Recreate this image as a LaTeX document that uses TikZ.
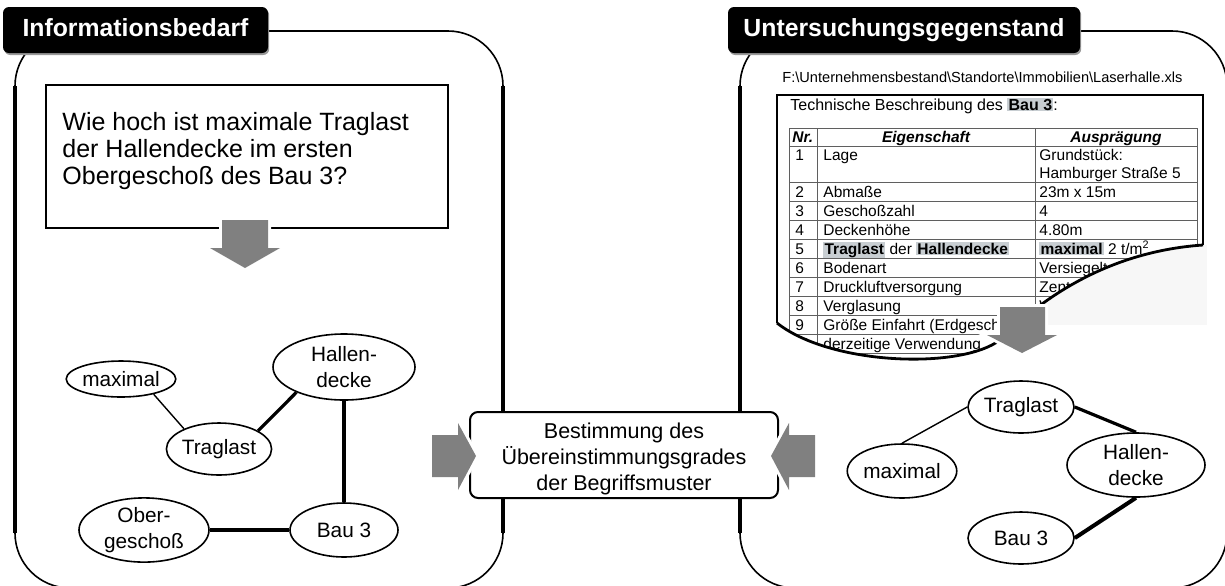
\documentclass[tikz,border=0pt]{standalone}
\usepackage{fontspec}
\setmainfont{Liberation Sans}
\usetikzlibrary{shapes.geometric,shadows}
\definecolor{agray}{RGB}{128,128,128}
\definecolor{hl}{RGB}{200,206,210}
\definecolor{tline}{RGB}{95,95,95}
\newcommand\hlbox[1]{{\setlength{\fboxsep}{0.6pt}\colorbox{hl}{\textbf{#1}}}}
\newcommand\sheetfont{\fontsize{7.75}{9.5}\selectfont}
\begin{document}
\begin{tikzpicture}[x=0.5pt,y=-0.5pt,
  tab/.style={fill=black, rounded corners=3pt, text=white, inner sep=0pt,
    font=\fontsize{12.4}{15}\selectfont\bfseries, text depth=2pt,
    drop shadow={shadow xshift=0.6pt, shadow yshift=-1pt, fill=black!40, opacity=1}},
  panel/.style={line width=0.8pt, rounded corners=27.5pt},
  side/.style={line width=2pt},
  concept/.style={ellipse, draw, line width=0.8pt, fill=white, inner sep=0pt,
    align=center, font=\fontsize{10.4}{13}\selectfont},
  thinline/.style={line width=0.7pt},
  strongline/.style={line width=1.6pt},
  blockarrow/.style={fill=agray, preaction={draw=white, line width=3pt}},
  cell/.style={anchor=base west, inner sep=0pt, font=\sheetfont},
  hcell/.style={anchor=base, inner sep=0pt, font=\sheetfont\bfseries\itshape},
  gridline/.style={draw=tline, line width=0.5pt}
]
\useasboundingbox (0,0) rectangle (1225,585);
\clip (0,0) rectangle (1225,585);

% ---------- panels ----------
\draw[panel] (15,31) rectangle (503,588);
\draw[panel] (740,31) rectangle (1227,588);
\draw[side] (15,86) -- (15,533);
\draw[side] (503,86) -- (503,533);
\draw[side] (740,86) -- (740,533);

\node[tab, minimum width=132.5pt, minimum height=23pt] (tabA) at (135.5,30) {Informationsbedarf};
\node[tab, minimum width=176pt, minimum height=23pt] (tabB) at (904,30) {Untersuchungsgegenstand};

% ---------- left panel ----------
\node[draw, line width=0.75pt, minimum width=201pt, minimum height=71.5pt] (question) at (247,156.5) {};
\node[anchor=west, align=left, inner sep=0pt, font=\fontsize{12.5}{13.6}\selectfont] (qtext) at (62,151)
  {Wie hoch ist maximale Traglast\\der Hallendecke im ersten\\Obergeschoß des Bau 3?};
\fill[blockarrow] (222,220) -- (268,220) -- (268,248) -- (280,248) -- (245,268)
  -- (210,248) -- (222,248) -- cycle;

\node[concept, minimum width=53pt, minimum height=18pt] (lmax) at (121,379) {maximal};
\node[concept, minimum width=71pt, minimum height=33pt] (lhal) at (344,367) {Hallen-\\decke};
\node[concept, minimum width=52pt, minimum height=26pt] (ltrag) at (219,449) {Traglast};
\node[concept, minimum width=65pt, minimum height=32pt] (lober) at (144,530) {Ober-\\geschoß};
\node[concept, minimum width=54pt, minimum height=27pt] (lbau) at (344,530) {Bau 3};
\draw[thinline] (lmax.-25) -- (ltrag.150);
\draw[strongline] (ltrag.25) -- (lhal.208);
\draw[strongline] (lhal.south) -- (lbau.north);
\draw[strongline] (lober.east) -- (lbau.west);

% ---------- middle ----------
\node[draw, line width=1pt, rounded corners=4pt, fill=white, minimum width=154pt,
  minimum height=43pt] (mid) at (624,455) {};
\node[align=center, inner sep=0pt, font=\fontsize{10.75}{12.8}\selectfont] (midtext) at (624,459)
  {Bestimmung des\\Übereinstimmungsgrades\\der Begriffsmuster};
\fill[blockarrow] (432,435) -- (458,435) -- (458,423) -- (476,456) -- (458,490)
  -- (458,477) -- (432,477) -- cycle;
\fill[blockarrow] (815,435) -- (789,435) -- (789,423) -- (771,456) -- (789,490)
  -- (789,477) -- (815,477) -- cycle;

% ---------- right panel: spreadsheet ----------
\fill[black!3] (1000,245) rectangle (1207,325);
\node[cell, font=\fontsize{7.3}{9}\selectfont] (path) at (782,82)
  {F:\textbackslash Unternehmensbestand\textbackslash Standorte\textbackslash Immobilien\textbackslash Laserhalle.xls};
\begin{scope}
  \clip (777,95) -- (1203,95) -- (1203,245) .. controls (1130,250) and (1060,280) .. (1000,340)
    .. controls (960,370) and (830,365) .. (777,323) -- cycle;
  \fill[white] (777,95) rectangle (1203,370);
  \node[cell, font=\fontsize{8}{9.5}\selectfont] (title) at (790,110) {Technische Beschreibung des \hlbox{Bau 3}:};
  \foreach \yy in {128,146,182,201,220,239,258,277,296,315,334,353}
    \draw[gridline] (789,\yy) -- (1197,\yy);
  \foreach \xx in {789,817,1035,1197}
    \draw[gridline] (\xx,128) -- (\xx,370);
  \node[hcell, anchor=base west] (h0) at (792,142) {Nr.};
  \node[hcell] (h1) at (926,142) {Eigenschaft};
  \node[hcell] (h2) at (1116,142) {Ausprägung};
  \node[cell] (a1) at (795,160) {1};
  \node[cell] (b1) at (823,160) {Lage};
  \node[cell] (c1) at (1039,160) {Grundstück:};
  \node[cell] (c1b) at (1039,178) {Hamburger Straße 5};
  \node[cell] (a2) at (795,197) {2};
  \node[cell] (b2) at (823,197) {Abmaße};
  \node[cell] (c2) at (1039,197) {23m x 15m};
  \node[cell] (a3) at (795,216) {3};
  \node[cell] (b3) at (823,216) {Geschoßzahl};
  \node[cell] (c3) at (1039,216) {4};
  \node[cell] (a4) at (795,235) {4};
  \node[cell] (b4) at (823,235) {Deckenhöhe};
  \node[cell] (c4) at (1039,235) {4.80m};
  \node[cell] (a5) at (795,254) {5};
  \node[cell] (b5) at (823,254) {\hlbox{Traglast} der \hlbox{Hallendecke}};
  \node[cell] (c5) at (1039,254) {\hlbox{maximal} 2 t/m\textsuperscript{2}};
  \node[cell] (a6) at (795,273) {6};
  \node[cell] (b6) at (823,273) {Bodenart};
  \node[cell] (c6) at (1039,273) {Versiegelt};
  \node[cell] (a7) at (795,292) {7};
  \node[cell] (b7) at (823,292) {Druckluftversorgung};
  \node[cell] (c7) at (1039,292) {Zentral};
  \node[cell] (a8) at (795,311) {8};
  \node[cell] (b8) at (823,311) {Verglasung};
  \node[cell] (c8) at (1039,311) {W};
  \node[cell] (a9) at (795,330) {9};
  \node[cell] (b9) at (823,330) {Größe Einfahrt (Erdgeschoß)};
  \node[cell] (a10) at (792,349) {10};
  \node[cell] (b10) at (823,349) {derzeitige Verwendung};
\end{scope}
\draw[line width=0.7pt] (777,323) -- (777,95) -- (1203,95) -- (1203,245);
\draw[line width=1.4pt] (1203,245) .. controls (1130,250) and (1060,280) .. (1000,340)
    .. controls (960,370) and (830,365) .. (777,323);
\fill[blockarrow] (1000,307) -- (1045,307) -- (1045,335) -- (1057,335) -- (1022,353)
  -- (987,335) -- (1000,335) -- cycle;

% ---------- right graph ----------
\node[concept, minimum width=53pt, minimum height=26pt] (rtrag) at (1021,407) {Traglast};
\node[concept, minimum width=54pt, minimum height=27pt] (rmax) at (902,471) {maximal};
\node[concept, minimum width=69pt, minimum height=32pt] (rhal) at (1136,465) {Hallen-\\decke};
\node[concept, minimum width=53pt, minimum height=26pt] (rbau) at (1021,538) {Bau 3};
\draw[thinline] (rmax.north) -- (rtrag.west);
\draw[strongline] (rtrag.east) -- (rhal.north);
\draw[line width=2pt] (rhal.south) -- (rbau.east);
\end{tikzpicture}
\end{document}
